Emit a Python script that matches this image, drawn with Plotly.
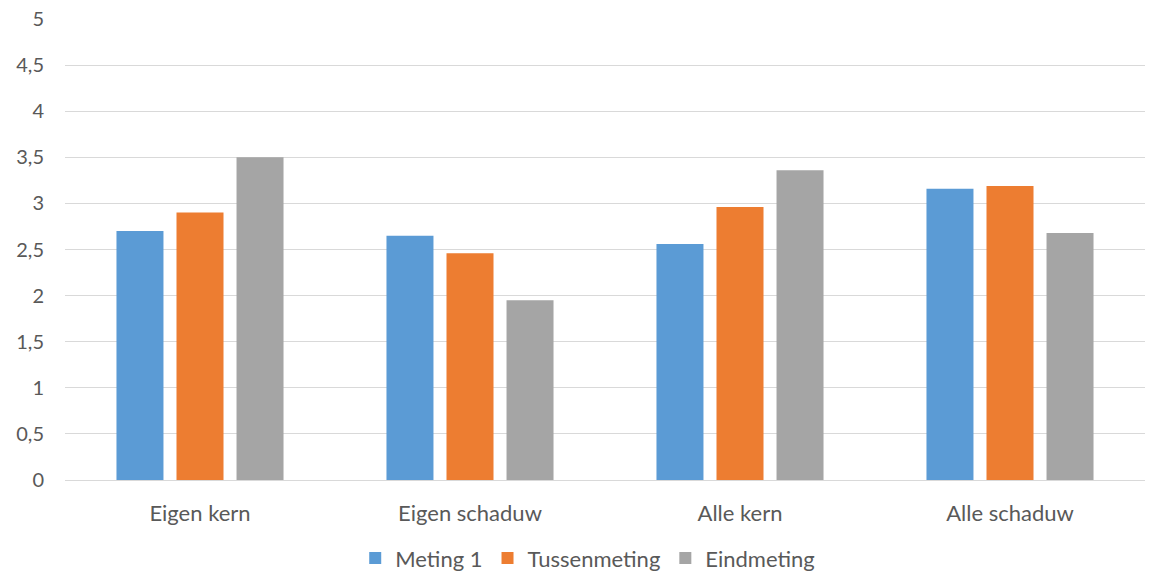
import plotly.graph_objects as go

categories = ["Eigen kern", "Eigen schaduw", "Alle kern", "Alle schaduw"]
series_names = ["Meting 1", "Tussenmeting", "Eindmeting"]
meting1 = [2.7, 2.65, 2.56, 3.16]
tussenmeting = [2.9, 2.46, 2.96, 3.19]
eindmeting = [3.5, 1.95, 3.36, 2.68]
colors = ["#5B9BD5", "#ED7D31", "#A5A5A5"]
y_ticks = [0, 0.5, 1, 1.5, 2, 2.5, 3, 3.5, 4, 4.5, 5]
y_tick_labels = ["0", "0,5", "1", "1,5", "2", "2,5", "3", "3,5", "4", "4,5", "5"]

fig = go.Figure()
for name, vals, c in zip(series_names, [meting1, tussenmeting, eindmeting], colors):
    fig.add_trace(go.Bar(x=categories, y=vals, name=name, marker=dict(color=c, line=dict(width=0))))

font_fam = "Lato, Open Sans, sans-serif"
fig.update_layout(
    width=1153, height=577,
    margin=dict(l=65, r=8, t=19, b=97, autoexpand=False),
    paper_bgcolor="white", plot_bgcolor="white",
    barmode="group", bargap=0.333, bargroupgap=0.217,
    font=dict(family=font_fam, color="#595959", size=20),
    legend=dict(orientation="h", x=0.484, xanchor="center", y=-0.124, yanchor="top",
                font=dict(size=22, color="#595959"), itemwidth=30, traceorder="normal"),
    xaxis=dict(showgrid=False, showline=True, linecolor="#D9D9D9", linewidth=1,
               ticks="", tickfont=dict(size=22, color="#595959"), ticklabelstandoff=14),
    yaxis=dict(range=[0, 5], tickvals=y_ticks, ticktext=y_tick_labels,
               showgrid=True, gridcolor="#D9D9D9", gridwidth=1, zeroline=False,
               showline=False, ticks="", ticklabelstandoff=20,
               tickfont=dict(size=20, color="#595959")),
)
fig.write_html("out.html")
